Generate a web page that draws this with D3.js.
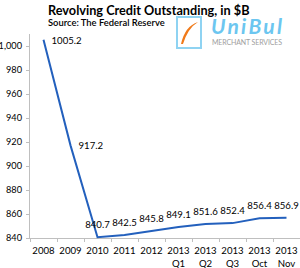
<!DOCTYPE html>
<html><head><meta charset="utf-8">
<script src="https://cdn.jsdelivr.net/npm/d3@7"></script>
<style>html,body{margin:0;padding:0;background:#fff;}svg{display:block;}</style>
</head><body>
<svg id="c" width="300" height="268"></svg>
<script>
const categories = ["2008","2009","2010","2011","2012","2013|Q1","2013|Q2","2013|Q3","2013|Oct","2013|Nov"];
const values = [1005.2, 917.2, 840.7, 842.5, 845.8, 849.1, 851.6, 852.4, 856.4, 856.9];
const yTicks = [840, 860, 880, 900, 920, 940, 960, 980, 1000];
const title = "Revolving Credit Outstanding, in $B";
const subtitle = "Source: The Federal Reserve";

const svg = d3.select("#c");
const font = "Lato, 'Open Sans', sans-serif";
const fs = 9.6;
const x = d3.scaleBand().domain(categories).range([30, 300]);
const y = d3.scaleLinear().domain([840, 1010]).range([238, 34]);

// y axis
const ya = svg.append("g").attr("transform","translate(30,0)")
  .call(d3.axisLeft(y).tickValues(yTicks).tickSize(4).tickPadding(4));
ya.select(".domain").attr("stroke","#bfbfbf").attr("d","M-0.5,34V238.5");
ya.selectAll(".tick line").attr("stroke","#bfbfbf");
ya.selectAll(".tick text").attr("font-family",font).attr("font-size",9.2).attr("fill","#000");

// x axis
const xa = svg.append("g").attr("transform","translate(0,238)")
  .call(d3.axisBottom(x).tickSize(0).tickFormat(""));
xa.select(".domain").attr("stroke","#bfbfbf");
xa.selectAll(".tick").remove();
const edges = categories.map(c => x(c)).concat([x.range()[1]]);
xa.selectAll("line.sep").data(edges).enter().append("line")
  .attr("x1",d=>d+0.5).attr("x2",d=>d+0.5).attr("y1",0).attr("y2",4).attr("stroke","#bfbfbf");
const xl = svg.append("g").selectAll("text").data(categories).enter().append("text")
  .attr("x",d=>x(d)+x.bandwidth()/2).attr("y",254)
  .attr("text-anchor","middle").attr("font-family",font).attr("font-size",fs).attr("fill","#000");
xl.each(function(d){
  const parts = d.split("|");
  const t = d3.select(this);
  parts.forEach((p,i)=>t.append("tspan").attr("x",x(d)+x.bandwidth()/2).attr("dy",i?12.5:0).text(p));
});

// line
const cx = d => x(d) + x.bandwidth()/2;
const line = d3.line().x((d,i)=>cx(categories[i])).y(d=>y(d));
svg.append("path").datum(values).attr("d",line).attr("fill","none")
  .attr("stroke","#2360bd").attr("stroke-width",2);

// labels
svg.append("g").selectAll("text").data(values).enter().append("text")
  .attr("x",(d,i)=> i<2 ? cx(categories[i])+8 : cx(categories[i]))
  .attr("y",(d,i)=> i<2 ? y(d)+4 : y(d)-9)
  .attr("text-anchor",(d,i)=> i<2 ? "start" : "middle")
  .attr("font-family",font).attr("font-size",fs).attr("fill","#000")
  .text(d=>d.toFixed(1));

// title
svg.append("text").attr("x",48).attr("y",14.5).attr("font-family",font)
  .attr("font-size",12.7).attr("font-weight","bold").attr("fill","#000").text(title);
svg.append("text").attr("x",48).attr("y",25.5).attr("font-family",font)
  .attr("font-size",9.4).attr("font-weight","600").attr("fill","#000").text(subtitle);

// logo
const lg = svg.append("g");
lg.append("rect").attr("x",177).attr("y",17).attr("width",24).attr("height",31)
  .attr("fill","#fff").attr("stroke","#8fd3f2").attr("stroke-width",2);
lg.append("path").attr("d","M181,44 Q185,26 198,22 Q188,28 183,44 Z").attr("fill","#f07a1a");
lg.append("text").attr("x",211).attr("y",33.5).attr("font-family",font)
  .attr("font-size",21).attr("font-weight","bold").attr("font-style","italic")
  .attr("fill","#6cc6f0").attr("textLength",71).text("UniBul");
lg.append("text").attr("x",212).attr("y",44.5).attr("font-family",font)
  .attr("font-size",7).attr("fill","#a0a0a0").attr("textLength",70).text("MERCHANT SERVICES");
</script>
</body></html>
